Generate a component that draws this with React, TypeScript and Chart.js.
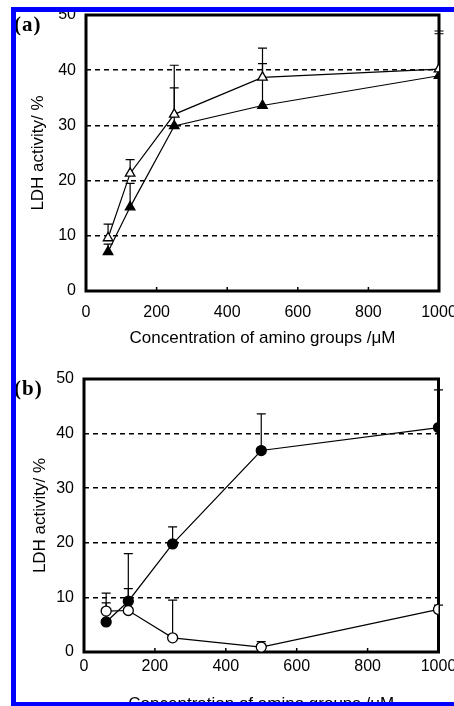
import React, { useEffect, useRef } from "react";
import { Chart, registerables } from "chart.js";

Chart.register(...registerables);

// ---- data ----
const concentrations = [62.5, 125, 250, 500, 1000];
const xTickValues = [0, 200, 400, 600, 800, 1000];
const yTickValues = [0, 10, 20, 30, 40, 50];

// panel (a)
const aOpenTriangle = [9.6, 21.3, 32.0, 38.7, 40.2];
const aOpenTriangleUpper = [12.1, 23.8, 40.9, 44.0, 47.1];
const aFilledTriangle = [7.1, 15.2, 29.9, 33.6, 39.0];
const aFilledTriangleUpper = [8.5, 19.5, 36.8, 41.2, 46.6];

// panel (b)
const bOpenCircle = [7.5, 7.6, 2.6, 0.9, 7.8];
const bOpenCircleUpper = [10.8, 11.6, 9.5, 1.9, 8.6];
const bFilledCircle = [5.5, 9.3, 19.8, 36.9, 41.1];
const bFilledCircleUpper = [9.0, 18.0, 22.9, 43.6, 48.0];

const xTitle = "Concentration of amino groups /\u03bcM";
const yTitle = "LDH activity/ %";

const FONT = "'Liberation Sans', Arial, sans-serif";

type Geom = {
  canvasTop: number;
  canvasHeight: number;
  padTop: number;
  padRight: number;
  yAxisWidth: number;
  xAxisHeight: number;
  xTickPad: number;
  xTitlePadBottom: number;
  yTickPad: number;
  yTitlePad: number;
};

const decorPlugin = {
  id: "decor",
  beforeDatasetsDraw(chart: any) {
    const { ctx, chartArea: a, scales } = chart;
    const xs = scales.x;
    const ys = scales.y;
    ctx.save();
    ctx.strokeStyle = "#000";
    ctx.setLineDash([]);
    // inner tick marks on x axis
    ctx.lineWidth = 1.5;
    xTickValues.forEach((v) => {
      const px = xs.getPixelForValue(v);
      ctx.beginPath();
      ctx.moveTo(px, a.bottom);
      ctx.lineTo(px, a.bottom - 4);
      ctx.stroke();
    });
    // error bars (upper only)
    ctx.lineWidth = 1.2;
    chart.data.datasets.forEach((ds: any) => {
      const up: number[] = ds.upper || [];
      ds.data.forEach((p: any, i: number) => {
        const u = up[i];
        if (u == null) return;
        const px = xs.getPixelForValue(p.x);
        const py = ys.getPixelForValue(p.y);
        const pu = ys.getPixelForValue(u);
        ctx.beginPath();
        ctx.moveTo(px, py);
        ctx.lineTo(px, pu);
        ctx.moveTo(px - 4.5, pu);
        ctx.lineTo(px + 4.5, pu);
        ctx.stroke();
      });
    });
    // frame
    ctx.lineWidth = 3;
    ctx.strokeRect(a.left, a.top, a.right - a.left, a.bottom - a.top);
    ctx.restore();
  },
};

function pts(vals: number[]) {
  return concentrations.map((x, i) => ({ x, y: vals[i] }));
}

function series(vals: number[], upper: number[], style: string, filled: boolean) {
  return {
    data: pts(vals),
    upper,
    pointStyle: style,
    pointRadius: style === "triangle" ? 5.5 : 5,
    pointBackgroundColor: filled ? "#000" : "#fff",
    pointBorderColor: "#000",
    pointBorderWidth: 1.3,
    borderColor: "#000",
    borderWidth: 1.2,
    fill: false,
    tension: 0,
  };
}

function Panel({ g, datasets }: { g: Geom; datasets: any[] }) {
  const ref = useRef<HTMLCanvasElement | null>(null);
  useEffect(() => {
    if (!ref.current) return;
    const chart = new Chart(ref.current, {
      type: "line",
      data: { datasets },
      plugins: [decorPlugin],
      options: {
        responsive: false,
        animation: false,
        devicePixelRatio: 1,
        layout: { padding: { top: g.padTop, right: g.padRight, left: 0, bottom: 0 } },
        plugins: { legend: { display: false }, tooltip: { enabled: false } },
        scales: {
          x: {
            type: "linear",
            min: 0,
            max: 1000,
            afterBuildTicks: (s: any) => {
              s.ticks = xTickValues.map((v) => ({ value: v }));
            },
            ticks: {
              padding: g.xTickPad,
              font: { family: FONT, size: 16 },
              color: "#000",
              maxRotation: 0,
              autoSkip: false,
              callback: (v: any) => String(v),
            },
            grid: { display: false, drawTicks: false },
            border: { display: false },
            title: {
              display: true,
              text: xTitle,
              font: { family: FONT, size: 17 },
              color: "#000",
              padding: { top: 0, bottom: g.xTitlePadBottom },
            },
            afterFit: (s: any) => {
              s.height = g.xAxisHeight;
              s.paddingLeft = 0;
              s.paddingRight = 0;
            },
          },
          y: {
            type: "linear",
            min: 0,
            max: 50,
            afterBuildTicks: (s: any) => {
              s.ticks = yTickValues.map((v) => ({ value: v }));
            },
            ticks: {
              padding: g.yTickPad,
              font: { family: FONT, size: 16 },
              color: "#000",
              callback: (v: any) => String(v),
            },
            grid: {
              drawTicks: false,
              lineWidth: 1.5,
              color: (c: any) =>
                c.tick && (c.tick.value === 0 || c.tick.value === 50) ? "rgba(0,0,0,0)" : "#000",
            },
            border: { display: false, dash: [5, 4] },
            title: {
              display: true,
              text: yTitle,
              font: { family: FONT, size: 17 },
              color: "#000",
              padding: { top: g.yTitlePad, bottom: 0 },
            },
            afterFit: (s: any) => {
              s.width = g.yAxisWidth;
              s.paddingTop = 0;
              s.paddingBottom = 0;
            },
          },
        },
      } as any,
    });
    return () => chart.destroy();
  }, []);
  return (
    <canvas
      ref={ref}
      width={454}
      height={g.canvasHeight}
      style={{ position: "absolute", left: 0, top: g.canvasTop, width: 454, height: g.canvasHeight }}
    />
  );
}

const geomA: Geom = {
  canvasTop: 0,
  canvasHeight: 350,
  padTop: 15,
  padRight: 15,
  yAxisWidth: 86,
  xAxisHeight: 59,
  xTickPad: 12.4,
  xTitlePadBottom: 1.8,
  yTickPad: 10,
  yTitlePad: 28.3,
};

const geomB: Geom = {
  canvasTop: 350,
  canvasHeight: 370,
  padTop: 29,
  padRight: 15.5,
  yAxisWidth: 84,
  xAxisHeight: 68,
  xTickPad: 4.8,
  xTitlePadBottom: 5.8,
  yTickPad: 10,
  yTitlePad: 29.8,
};

const BLUE = "#0000ff";

export default function App() {
  const dsA = [
    series(aOpenTriangle, aOpenTriangleUpper, "triangle", false),
    series(aFilledTriangle, aFilledTriangleUpper, "triangle", true),
  ];
  const dsB = [
    series(bOpenCircle, bOpenCircleUpper, "circle", false),
    series(bFilledCircle, bFilledCircleUpper, "circle", true),
  ];
  const label: React.CSSProperties = {
    position: "absolute",
    fontFamily: "'Liberation Serif', 'Times New Roman', serif",
    fontWeight: "bold",
    fontSize: 21,
    lineHeight: "21px",
    letterSpacing: "1px",
    color: "#000",
  };
  return (
    <div
      style={{
        position: "absolute",
        left: 0,
        top: 0,
        width: 454,
        height: 706,
        overflow: "hidden",
        background: "#fff",
      }}
    >
      <Panel g={geomA} datasets={dsA} />
      <Panel g={geomB} datasets={dsB} />
      <div style={{ ...label, left: 14, top: 14 }}>(a)</div>
      <div style={{ ...label, left: 14, top: 378 }}>(b)</div>
      <div style={{ position: "absolute", left: 11, top: 7, width: 443, height: 5, background: BLUE }} />
      <div style={{ position: "absolute", left: 11, top: 7, width: 5, height: 699, background: BLUE }} />
      <div style={{ position: "absolute", left: 11, top: 702, width: 443, height: 4, background: BLUE }} />
    </div>
  );
}
